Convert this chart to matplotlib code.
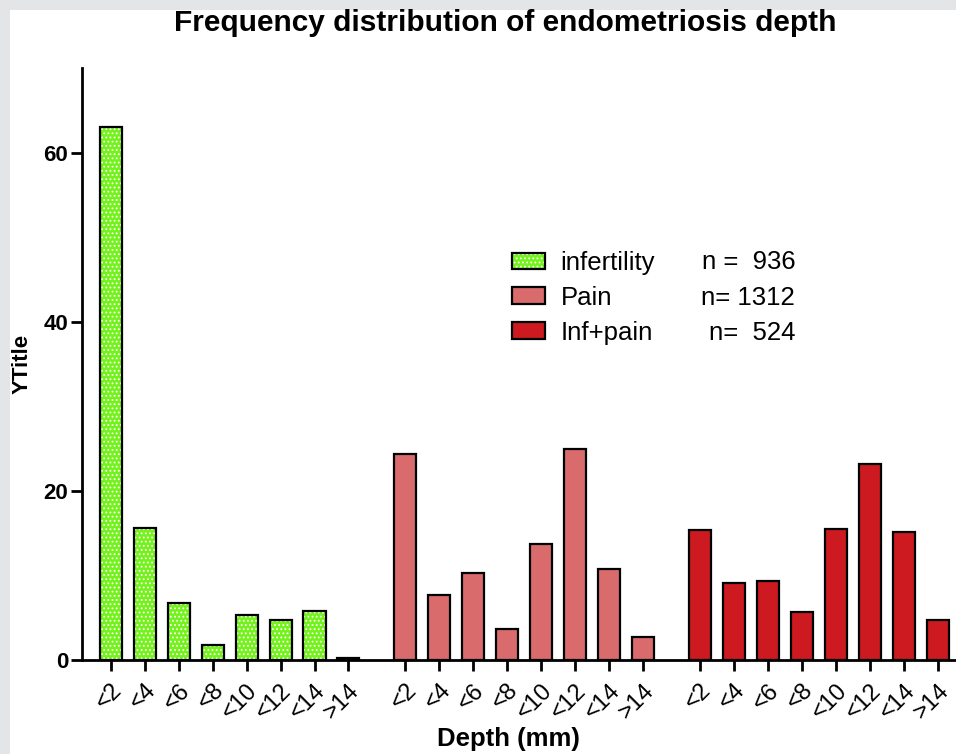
import numpy as np
import matplotlib.pyplot as plt
from matplotlib.patches import Patch, Rectangle
from matplotlib.legend_handler import HandlerTuple

plt.rcParams['font.family'] = ['Liberation Sans', 'DejaVu Sans']
plt.rcParams['hatch.linewidth'] = 0.8

# data
depth_labels = ['<2', '<4', '<6', '<8', '<10', '<12', '<14', '>14']
groups = ['infertility', 'Pain', 'Inf+pain']
n_text = ['n =  936', 'n= 1312', 'n=  524']
infertility = [63.0, 15.6, 6.7, 1.8, 5.3, 4.7, 5.8, 0.2]
pain = [24.3, 7.7, 10.3, 3.7, 13.7, 24.9, 10.8, 2.7]
inf_pain = [15.4, 9.1, 9.3, 5.7, 15.5, 23.2, 15.1, 4.7]

green = '#74f21c'
pink = '#d96b6d'
red = '#cc1a20'

fig = plt.figure(figsize=(9.56, 7.54), dpi=100)
fig.patch.set_facecolor('#e4e5e7')
# white page inside the grey frame
fig.patches.append(Rectangle((10 / 956, 0), 1, (754 - 10) / 754,
                             transform=fig.transFigure, facecolor='white',
                             edgecolor='none', zorder=-5))
ax = fig.add_axes([82 / 956, 94 / 754, 1 - 82 / 956, (660 - 68) / 754])
ax.set_facecolor('none')

gap = 8.68  # slots between group starts
w = 0.65
idx = np.arange(len(depth_labels))
x1 = idx
x2 = idx + gap
x3 = idx + 2 * gap

# infertility: green checker pattern, then black outline
ax.bar(x1, infertility, w, color=green, hatch='....', edgecolor='white', linewidth=0)
ax.bar(x1, infertility, w, fill=False, edgecolor='black', linewidth=1.6)
ax.bar(x2, pain, w, color=pink, edgecolor='black', linewidth=1.6)
ax.bar(x3, inf_pain, w, color=red, edgecolor='black', linewidth=1.6)

ax.set_xlim(-0.85, 24.9)
ax.set_ylim(0, 70)
ax.set_yticks([0, 20, 40, 60])
ax.set_yticklabels(['0', '20', '40', '60'], fontweight='bold', fontsize=16)
ax.set_xticks(np.concatenate([x1, x2, x3]))
ax.set_xticklabels(depth_labels * 3, rotation=45, ha='right',
                   rotation_mode='anchor', fontsize=17)
ax.tick_params(axis='both', direction='out', length=8, width=2, colors='black')
ax.tick_params(axis='x', pad=6)
ax.tick_params(axis='y', pad=2)
for s in ['top', 'right']:
    ax.spines[s].set_visible(False)
for s in ['left', 'bottom']:
    ax.spines[s].set_linewidth(2)

ax.set_ylabel('YTitle', fontweight='bold', fontsize=16)
ax.yaxis.set_label_coords(-0.057, 0.5)
ax.set_xlabel('Depth (mm)', fontweight='bold', fontsize=18.5)
ax.xaxis.set_label_coords(0.488, -0.113)
fig.text(0.528, 0.969, 'Frequency distribution of endometriosis depth',
         ha='center', va='center', fontweight='bold', fontsize=21.5)

h1 = (Patch(facecolor=green, hatch='....', edgecolor='white', linewidth=0),
      Patch(fill=False, edgecolor='black', linewidth=1.6))
h2 = Patch(facecolor=pink, edgecolor='black', linewidth=1.6)
h3 = Patch(facecolor=red, edgecolor='black', linewidth=1.6)
ax.legend([h1, h2, h3], groups, handler_map={tuple: HandlerTuple(ndivide=1)},
          loc='upper left', bbox_to_anchor=(0.466, 0.73), frameon=False,
          fontsize=18.5, handlelength=1.28, handleheight=0.62, labelspacing=0.42,
          handletextpad=0.6)
for i, t in enumerate(n_text):
    ax.text(0.816, 0.672 - i * 0.06, t, transform=ax.transAxes,
            ha='right', va='center', fontsize=18.5)

fig.savefig('out.png', dpi=100, facecolor=fig.get_facecolor())
